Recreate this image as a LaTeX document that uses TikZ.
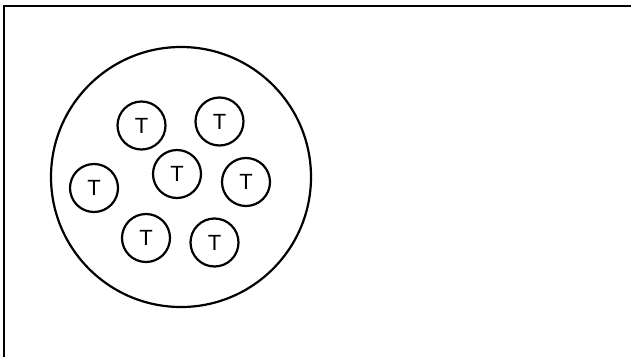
\documentclass[tikz,border=0pt]{standalone}
\usepackage{fontspec}
\setmainfont{Liberation Sans}
\begin{document}
\begin{tikzpicture}[x=1pt,y=-1pt,
  tnode/.style={circle,draw,line width=2.2pt,minimum size=48pt,inner sep=0pt,font=\fontsize{22}{22}\selectfont},
  bignode/.style={circle,draw,line width=2.2pt,minimum size=260pt,inner sep=0pt}]
\useasboundingbox (0,0) rectangle (631,356);
\begin{scope}
\clip (0,0) rectangle (631,356);
\draw[line width=2.4pt] (4,380) -- (4,6) -- (650,6);
\end{scope}
\node[bignode] (big) at (181,177) {};
\node[tnode] (t1) at (141.5,125.5) {T};
\node[tnode] (t2) at (219.5,121.5) {T};
\node[tnode] (t3) at (177,174) {T};
\node[tnode] (t4) at (246,182) {T};
\node[tnode] (t5) at (94,188) {T};
\node[tnode] (t6) at (146,238) {T};
\node[tnode] (t7) at (214.5,242.5) {T};
\end{tikzpicture}
\end{document}
